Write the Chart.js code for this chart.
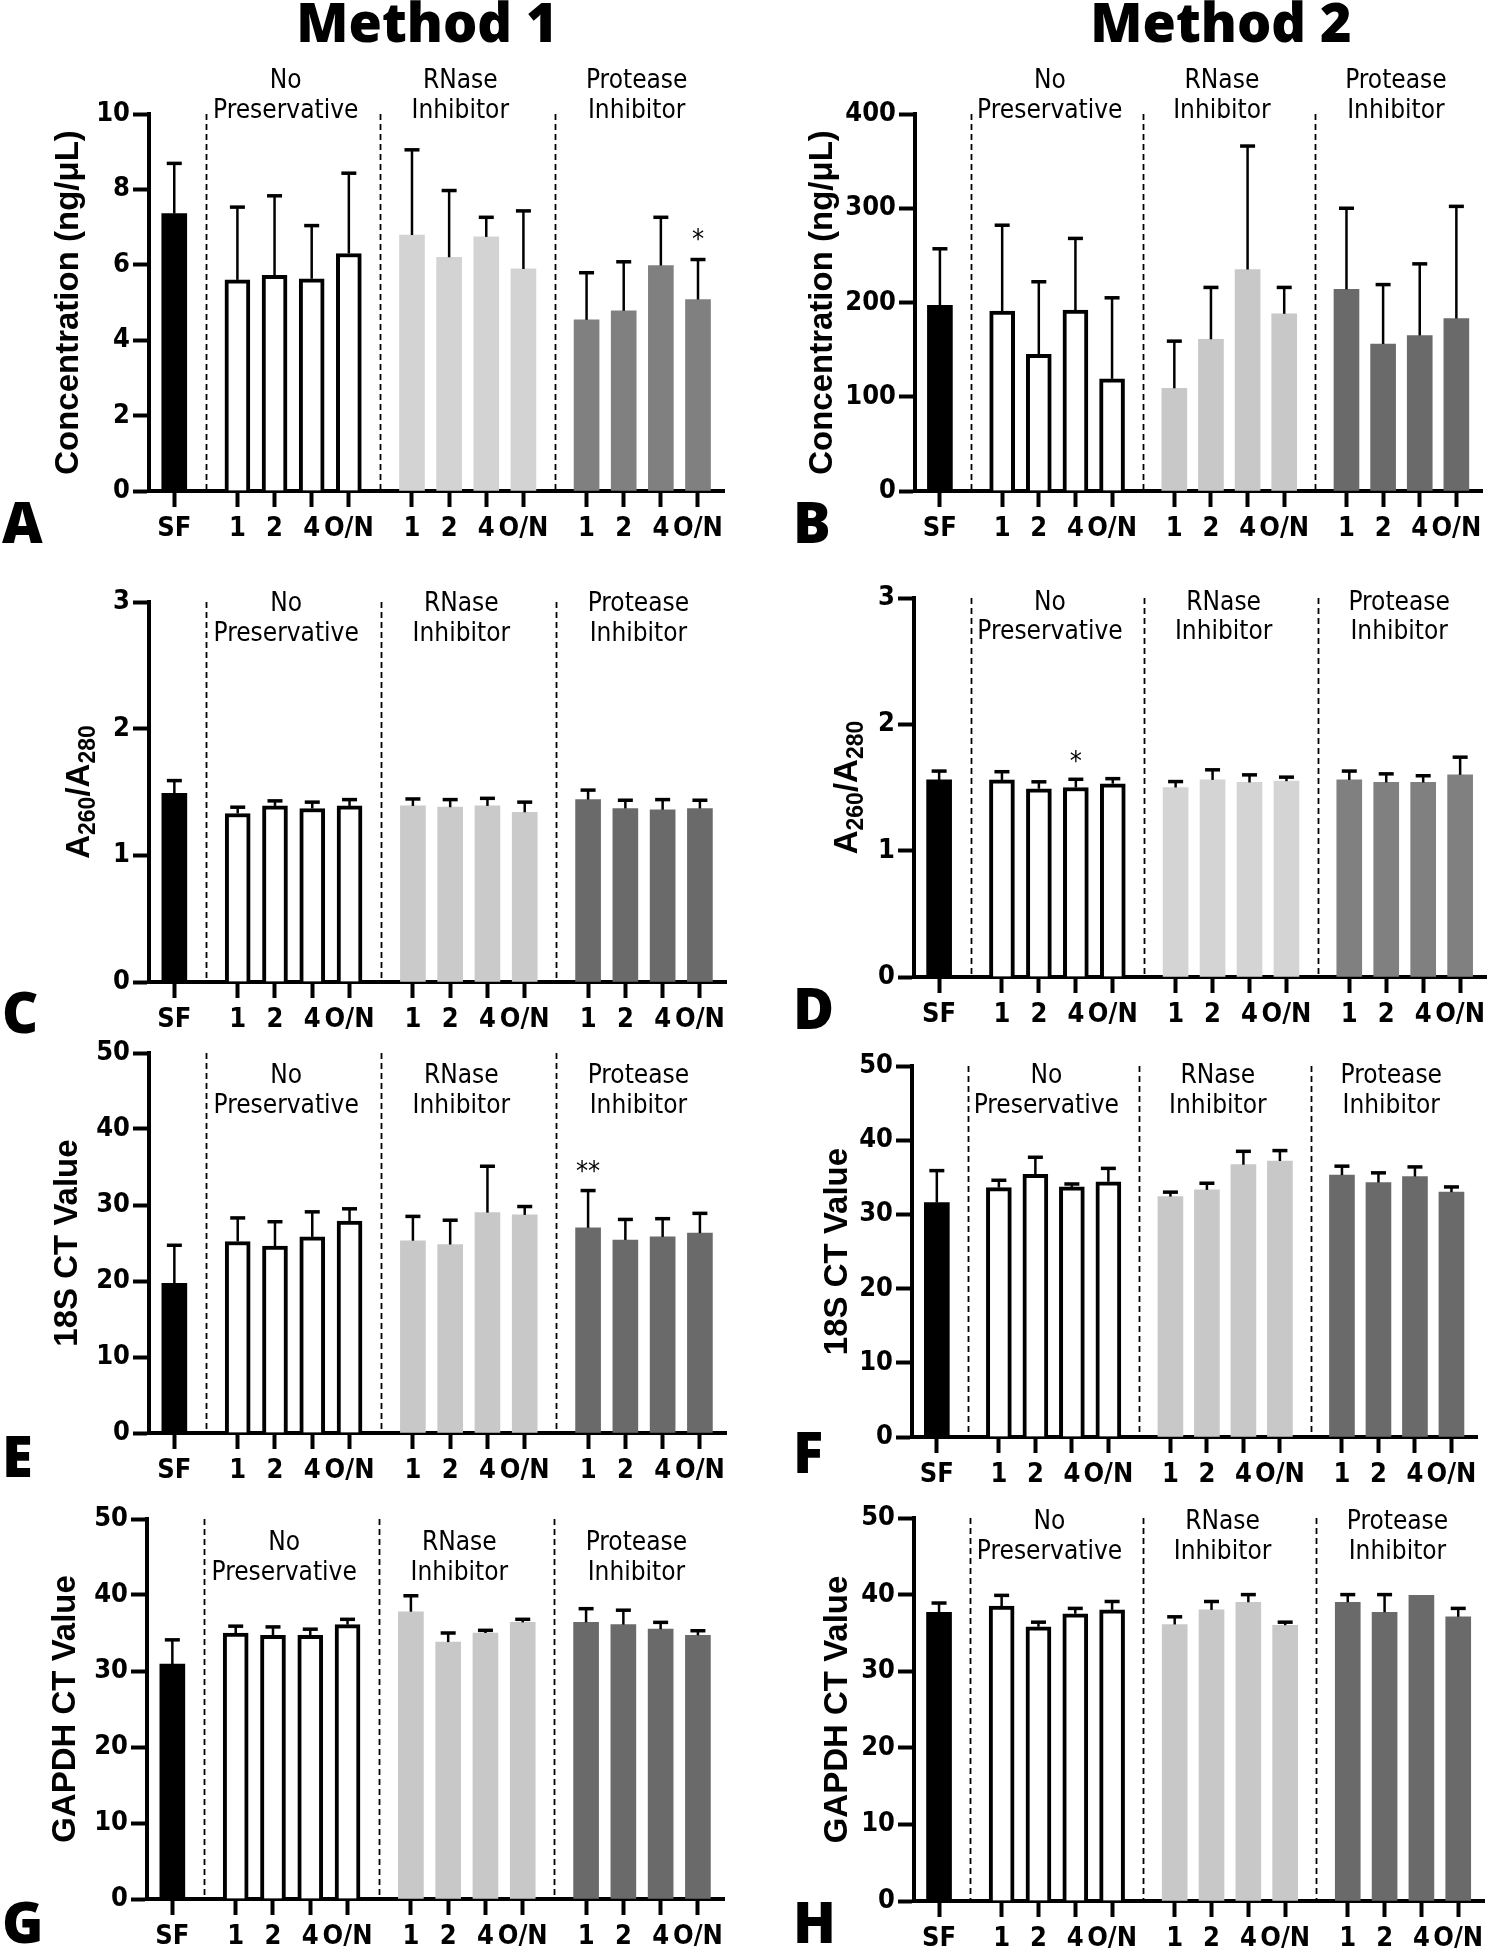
<!DOCTYPE html>
<html>
<head>
<meta charset="utf-8">
<script src="https://cdn.jsdelivr.net/npm/chart.js@4.4.0/dist/chart.umd.min.js"></script>
<style>
  body { margin: 0; background: #fff; }
  #page { position: relative; width: 1492px; height: 1950px; overflow: hidden; background: #fff; }
  #page canvas { position: absolute; }
  .method { position: absolute; top: -6px; width: 400px; text-align: center;
            font-family: "Open Sans", sans-serif; font-weight: 800; font-size: 54px; line-height: 54px; }
</style>
</head>
<body>
<div id="page">
  <div class="method" style="left:227px">Method 1</div>
  <div class="method" style="left:1021px">Method 2</div>
</div>
<script>
// -------------------- Data --------------------
const tickLabels = ["SF", "1", "2", "4", "O/N", "1", "2", "4", "O/N", "1", "2", "4", "O/N"];
const groupNames = [["No", "Preservative"], ["RNase", "Inhibitor"], ["Protease", "Inhibitor"]];

// concentration (ng/uL), mean and SD
const concM1 = [7.36, 5.60, 5.72, 5.63, 6.30, 6.79, 6.20, 6.74, 5.89, 4.54, 4.78, 5.98, 5.08];
const concM1Sd = [1.33, 1.93, 2.11, 1.41, 2.13, 2.26, 1.77, 0.52, 1.54, 1.25, 1.30, 1.28, 1.06];
const concM2 = [197, 191, 145, 192, 119, 109, 161, 235, 188, 214, 156, 165, 183];
const concM2Sd = [60, 91, 77, 76, 86, 50, 55, 131, 28, 86, 63, 76, 119];

// A260/A280
const ratioM1 = [1.49, 1.33, 1.39, 1.37, 1.39, 1.39, 1.38, 1.39, 1.34, 1.44, 1.37, 1.36, 1.37];
const ratioM1Sd = [0.10, 0.05, 0.04, 0.05, 0.05, 0.055, 0.06, 0.06, 0.08, 0.075, 0.065, 0.08, 0.065];
const ratioM2 = [1.56, 1.56, 1.49, 1.50, 1.53, 1.50, 1.56, 1.54, 1.55, 1.56, 1.54, 1.54, 1.60];
const ratioM2Sd = [0.07, 0.065, 0.055, 0.065, 0.04, 0.047, 0.08, 0.06, 0.032, 0.07, 0.068, 0.053, 0.14];

// 18S CT
const ct18sM1 = [19.7, 25.2, 24.6, 25.8, 27.9, 25.3, 24.8, 29.0, 28.7, 27.0, 25.4, 25.8, 26.3];
const ct18sM1Sd = [5.0, 3.1, 3.2, 3.3, 1.6, 3.2, 3.2, 6.1, 1.1, 4.9, 2.7, 2.4, 2.6];
const ct18sM2 = [31.6, 33.6, 35.4, 33.7, 34.4, 32.4, 33.3, 36.7, 37.2, 35.3, 34.3, 35.1, 33.0];
const ct18sM2Sd = [4.3, 1.0, 2.3, 0.4, 1.8, 0.6, 0.9, 1.8, 1.4, 1.2, 1.3, 1.3, 0.7];

// GAPDH CT
const gapdhM1 = [30.9, 35.0, 34.7, 34.7, 36.1, 37.8, 33.8, 35.0, 36.4, 36.4, 36.1, 35.5, 34.7];
const gapdhM1Sd = [3.2, 0.9, 1.1, 0.8, 0.7, 2.1, 1.2, 0.35, 0.4, 1.8, 1.9, 0.9, 0.6];
const gapdhM2 = [37.7, 38.5, 35.8, 37.5, 38.0, 36.1, 38.0, 39.0, 36.0, 39.0, 37.7, 39.9, 37.1];
const gapdhM2Sd = [1.2, 1.4, 0.6, 0.7, 1.1, 1.0, 1.1, 1.0, 0.4, 1.0, 2.3, 0, 1.1];

// significance marks: [bar index, text, height]
const starsA = [[12, "*", 6.8]];
const starsD = [[3, "*", 1.74]];
const starsE = [[9, "**", 35.0]];

// -------------------- Layout (not data) --------------------
const slotX = [0, 1.7, 2.7, 3.7, 4.7, 6.4, 7.4, 8.4, 9.4, 11.1, 12.1, 13.1, 14.1];
const dividerX = [0.85, 5.55, 10.25];
const groupLabelX = [3.0, 7.7, 12.45];
const xMin = -0.68, xMax = 14.8;

const cols = [{ left: 0, width: 746 }, { left: 746, width: 760 }];
const rows = [{ top: 30, height: 550 }, { top: 560, height: 500 }, { top: 1010, height: 490 }, { top: 1470, height: 480 }];

const narrow = '"Liberation Sans Narrow", "Arial Narrow", "DejaVu Sans Condensed", sans-serif';
const tickFont = { family: narrow, size: 27, weight: "bold" };

const panels = [
  { id: "A", col: 0, row: 0, area: [149, 114, 724, 491], yMax: 10, yStep: 2, mean: concM1, sd: concM1Sd, stars: starsA,
    title: [["Concentration (ng/\u03BCL)", 0]], titleX: 66, labelDy: [-33, -3], letter: [2, 543], colors: ["#d3d3d3", "#808080"] },
  { id: "B", col: 1, row: 0, area: [915, 114, 1482, 491], yMax: 400, yStep: 100, mean: concM2, sd: concM2Sd, stars: [],
    title: [["Concentration (ng/\u03BCL)", 0]], titleX: 820, labelDy: [-33, -3], letter: [793, 543], colors: ["#c8c8c8", "#6a6a6a"] },
  { id: "C", col: 0, row: 1, area: [149, 602, 726, 982], yMax: 3, yStep: 1, mean: ratioM1, sd: ratioM1Sd, stars: [],
    title: [["A", 0], ["260", 1], ["/A", 0], ["280", 1]], titleX: 77, labelDy: [2, 32], letter: [2, 1033], colors: ["#cacaca", "#6a6a6a"] },
  { id: "D", col: 1, row: 1, area: [914, 598, 1486, 977], yMax: 3, yStep: 1, mean: ratioM2, sd: ratioM2Sd, stars: starsD,
    title: [["A", 0], ["260", 1], ["/A", 0], ["280", 1]], titleX: 845, labelDy: [5, 34], letter: [793, 1029], colors: ["#d4d4d4", "#808080"] },
  { id: "E", col: 0, row: 2, area: [149, 1053, 726, 1433], yMax: 50, yStep: 10, mean: ct18sM1, sd: ct18sM1Sd, stars: starsE,
    title: [["18S CT Value", 0]], titleX: 65, labelDy: [23, 53], letter: [2, 1477], colors: ["#c8c8c8", "#6a6a6a"] },
  { id: "F", col: 1, row: 2, area: [912, 1066, 1477, 1437], yMax: 50, yStep: 10, mean: ct18sM2, sd: ct18sM2Sd, stars: [],
    title: [["18S CT Value", 0]], titleX: 835, labelDy: [10, 40], letter: [793, 1473], colors: ["#c8c8c8", "#6a6a6a"] },
  { id: "G", col: 0, row: 3, area: [147, 1519, 724, 1899], yMax: 50, yStep: 10, mean: gapdhM1, sd: gapdhM1Sd, stars: [],
    title: [["GAPDH CT Value", 0]], titleX: 63, labelDy: [24, 54], letter: [2, 1943], colors: ["#c8c8c8", "#6a6a6a"] },
  { id: "H", col: 1, row: 3, area: [914, 1518, 1484, 1901], yMax: 50, yStep: 10, mean: gapdhM2, sd: gapdhM2Sd, stars: [],
    title: [["GAPDH CT Value", 0]], titleX: 835, labelDy: [4, 34], letter: [793, 1943], colors: ["#c8c8c8", "#6a6a6a"] }
];

// -------------------- Extra drawing: dividers, error bars, labels --------------------
function makeDecor(p, col, row) {
  return {
    id: "decor" + p.id,
    beforeDatasetsDraw(chart) {
      const { ctx, chartArea } = chart;
      const xs = chart.scales.x;
      ctx.save();
      ctx.strokeStyle = "#000";
      ctx.lineWidth = 1.8;
      ctx.setLineDash([6, 4]);
      dividerX.forEach(v => {
        const x = Math.round(xs.getPixelForValue(v)) + 0.5;
        ctx.beginPath();
        ctx.moveTo(x, chartArea.top);
        ctx.lineTo(x, chartArea.bottom);
        ctx.stroke();
      });
      ctx.restore();
    },
    afterDatasetsDraw(chart) {
      const { ctx } = chart;
      const xs = chart.scales.x, ys = chart.scales.y;
      ctx.save();
      ctx.strokeStyle = "#000";
      p.mean.forEach((m, i) => {
        if (!(p.sd[i] > 0)) return;
        const x = xs.getPixelForValue(slotX[i]);
        const y0 = ys.getPixelForValue(m);
        const y1 = ys.getPixelForValue(m + p.sd[i]);
        ctx.lineWidth = 2.5;
        ctx.beginPath();
        ctx.moveTo(x, y0);
        ctx.lineTo(x, y1);
        ctx.stroke();
        ctx.lineWidth = 3.5;
        ctx.beginPath();
        ctx.moveTo(x - 7.5, y1);
        ctx.lineTo(x + 7.5, y1);
        ctx.stroke();
      });
      ctx.fillStyle = "#000";
      ctx.font = "27px " + narrow;
      ctx.textAlign = "center";
      ctx.textBaseline = "middle";
      p.stars.forEach(([i, txt, v]) => {
        ctx.fillText(txt, xs.getPixelForValue(slotX[i]), ys.getPixelForValue(v) + 6);
      });
      ctx.restore();
    },
    afterDraw(chart) {
      const { ctx, chartArea } = chart;
      const xs = chart.scales.x;
      ctx.save();
      ctx.fillStyle = "#000";
      // group labels
      ctx.font = "26px " + narrow;
      ctx.textAlign = "center";
      ctx.textBaseline = "middle";
      groupNames.forEach((lines, g) => {
        const x = xs.getPixelForValue(groupLabelX[g]);
        lines.forEach((t, k) => ctx.fillText(t, x, chartArea.top + p.labelDy[k]));
      });
      // y title (with subscripts where needed)
      const big = 'bold 33px "Liberation Sans", Arial, sans-serif';
      const small = 'bold 23px "Liberation Sans", Arial, sans-serif';
      let total = 0;
      p.title.forEach(([t, sub]) => { ctx.font = sub ? small : big; total += ctx.measureText(t).width; });
      ctx.translate(p.titleX - col.left, (chartArea.top + chartArea.bottom) / 2);
      ctx.rotate(-Math.PI / 2);
      ctx.textAlign = "left";
      ctx.textBaseline = "alphabetic";
      let tx = -total / 2;
      p.title.forEach(([t, sub]) => {
        ctx.font = sub ? small : big;
        ctx.fillText(t, tx, sub ? 18 : 12);
        tx += ctx.measureText(t).width;
      });
      ctx.restore();
      // panel letter
      ctx.save();
      ctx.fillStyle = "#000";
      ctx.font = '800 56px "Open Sans", sans-serif';
      ctx.textAlign = "left";
      ctx.textBaseline = "alphabetic";
      ctx.fillText(p.id, p.letter[0] - col.left, p.letter[1] - row.top);
      ctx.restore();
    }
  };
}

// -------------------- Build the panels --------------------
const page = document.getElementById("page");

panels.forEach(p => {
  const col = cols[p.col], row = rows[p.row];
  const [aL, aT, aR, aB] = p.area;
  const cv = document.createElement("canvas");
  cv.width = col.width;
  cv.height = row.height;
  cv.style.left = col.left + "px";
  cv.style.top = row.top + "px";
  page.appendChild(cv);

  const fills = slotX.map((_, i) => i === 0 ? "#000" : i < 5 ? "#fff" : i < 9 ? p.colors[0] : p.colors[1]);
  const borders = slotX.map((_, i) => (i >= 1 && i <= 4) ? 4 : 0);

  new Chart(cv, {
    type: "bar",
    data: {
      datasets: [{
        data: slotX.map((x, i) => ({ x: x, y: p.mean[i] })),
        backgroundColor: fills,
        borderColor: "#000",
        borderWidth: borders,
        borderSkipped: "bottom",
        barThickness: 25
      }]
    },
    options: {
      responsive: false,
      animation: false,
      events: [],
      layout: { padding: { left: 0, top: aT - row.top, right: col.left + col.width - aR, bottom: 0 } },
      plugins: { legend: { display: false }, tooltip: { enabled: false } },
      scales: {
        x: {
          type: "linear",
          min: xMin,
          max: xMax,
          offset: false,
          afterBuildTicks: s => { s.ticks = slotX.map(v => ({ value: v })); },
          afterFit: s => { s.height = row.top + row.height - aB; },
          grid: { offset: false, drawOnChartArea: false, drawTicks: true, tickLength: 16, tickWidth: 4, tickColor: "#000" },
          border: { display: true, color: "#000", width: 4 },
          ticks: {
            autoSkip: false, maxRotation: 0, minRotation: 0, padding: 6, color: "#000", font: tickFont,
            callback: (v, i) => tickLabels[i]
          }
        },
        y: {
          min: 0,
          max: p.yMax,
          afterFit: s => { s.width = aL - col.left; },
          grid: { drawOnChartArea: false, drawTicks: true, tickLength: 16, tickWidth: 4, tickColor: "#000" },
          border: { display: true, color: "#000", width: 4 },
          ticks: { stepSize: p.yStep, padding: 3, color: "#000", font: tickFont }
        }
      }
    },
    plugins: [makeDecor(p, col, row)]
  });
});
</script>
</body>
</html>
